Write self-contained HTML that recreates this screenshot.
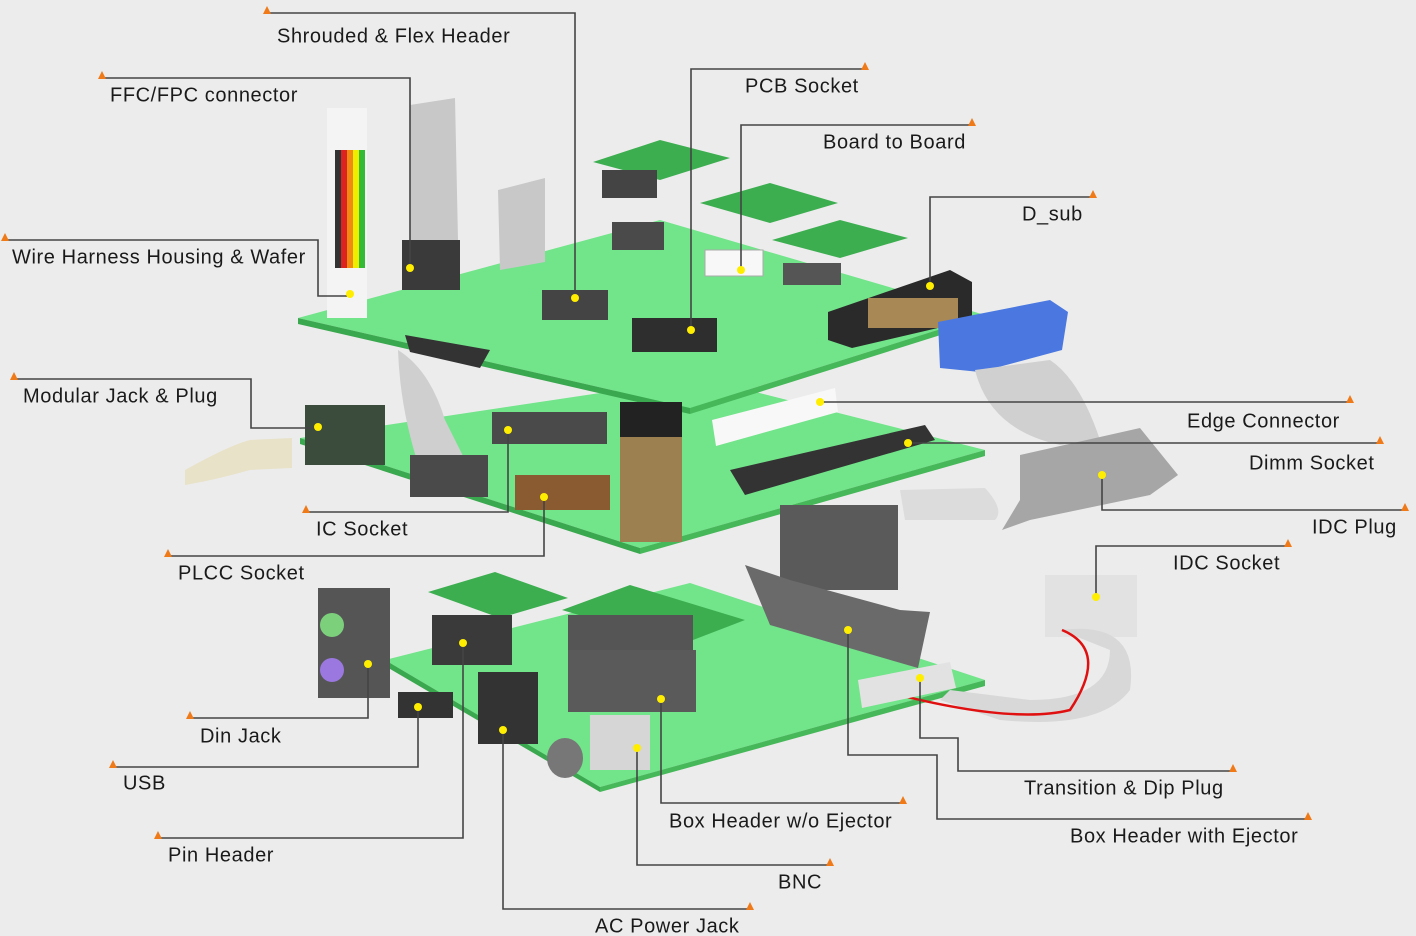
<!DOCTYPE html>
<html><head><meta charset="utf-8"><style>
html,body{margin:0;padding:0;background:#ececec;}
svg{display:block}
text{font-family:"Liberation Sans",sans-serif;font-size:20px;letter-spacing:0.6px;fill:#1a1a1a;dominant-baseline:middle}
.l{fill:none;stroke:#444;stroke-width:1.6}
.t{fill:#f07a18}
.d{fill:#ffee00}
</style></head><body>
<svg width="1416" height="936" viewBox="0 0 1416 936">
<rect width="1416" height="936" fill="#ececec"/>
<polygon points="385,660 690,583 985,680 600,787" fill="#72e48a"/>
<polygon points="385,660 600,787 600,792 385,666" fill="#3aa84e"/>
<polygon points="600,787 985,680 985,686 600,792" fill="#46b85a"/>
<polygon points="300,438 700,378 985,450 640,548" fill="#72e48a"/>
<polygon points="300,438 640,548 640,554 300,444" fill="#3aa84e"/>
<polygon points="640,548 985,450 985,456 640,554" fill="#46b85a"/>
<polygon points="298,318 660,220 985,315 690,408" fill="#72e48a"/>
<polygon points="298,318 690,408 690,414 298,324" fill="#3aa84e"/>
<polygon points="690,408 985,315 985,321 690,414" fill="#46b85a"/>
<polygon points="593,162 660,140 730,158 660,180" fill="#3cae50"/>
<rect x="602" y="170" width="55" height="28" fill="#444"/>
<polygon points="700,203 770,183 838,203 770,223" fill="#3cae50"/>
<polygon points="772,240 840,220 908,238 840,258" fill="#3cae50"/>
<polygon points="428,592 495,572 568,598 500,618" fill="#3cae50"/>
<polygon points="562,610 630,585 745,620 680,645" fill="#3cae50"/>
<rect x="327" y="108" width="40" height="210" fill="#f4f4f4"/>
<rect x="335" y="150" width="6" height="118" fill="#333"/><rect x="341" y="150" width="6" height="118" fill="#d22"/><rect x="347" y="150" width="6" height="118" fill="#f08a10"/><rect x="353" y="150" width="6" height="118" fill="#ee0"/><rect x="359" y="150" width="6" height="118" fill="#3b3"/>
<path d="M410,105 L455,98 L458,240 L410,245 Z" fill="#c8c8c8"/>
<rect x="402" y="240" width="58" height="50" fill="#3a3a3a"/>
<path d="M498,190 L545,178 L545,262 L500,270 Z" fill="#c8c8c8"/>
<rect x="612" y="222" width="52" height="28" fill="#4a4a4a"/>
<rect x="705" y="250" width="58" height="26" fill="#f8f8f8" stroke="#aaa"/>
<rect x="783" y="263" width="58" height="22" fill="#555"/>
<rect x="542" y="290" width="66" height="30" fill="#444"/>
<rect x="632" y="318" width="85" height="34" fill="#2e2e2e"/>
<polygon points="828,312 950,270 972,282 972,320 852,348 828,340" fill="#2a2a2a"/>
<rect x="868" y="298" width="90" height="30" fill="#a88855"/>
<polygon points="938,322 1050,300 1068,312 1062,350 980,372 940,368" fill="#4a78e0"/>
<path d="M405,335 L490,350 L480,368 L410,352 Z" fill="#333"/>
<path d="M398,350 Q430,370 445,420 L470,470 L420,470 Q400,410 398,350 Z" fill="#cfcfcf"/>
<rect x="410" y="455" width="78" height="42" fill="#4a4a4a"/>
<rect x="305" y="405" width="80" height="60" fill="#3c4c3c"/>
<path d="M185,470 Q230,445 250,440 L292,438 L292,468 L250,470 Q215,480 185,485 Z" fill="#e8e2c8"/>
<rect x="492" y="412" width="115" height="32" fill="#4a4a4a"/>
<rect x="515" y="475" width="95" height="35" fill="#8a5a30"/>
<rect x="620" y="402" width="62" height="140" fill="#9c8050"/>
<rect x="620" y="402" width="62" height="35" fill="#222"/>
<polygon points="712,420 835,388 838,412 716,446" fill="#f8f8f8"/>
<polygon points="730,470 925,425 935,440 745,495" fill="#333"/>
<path d="M975,370 Q990,430 1060,445 L1100,440 Q1080,380 1050,360 Z" fill="#d0d0d0"/>
<polygon points="1020,455 1140,428 1178,475 1150,495 1030,520 1002,530 1020,500" fill="#a6a6a6"/>
<path d="M900,490 L985,488 Q1005,510 995,520 L905,520 Z" fill="#dcdcdc"/>
<rect x="780" y="505" width="118" height="85" fill="#5a5a5a"/>
<polygon points="745,565 790,580 900,610 930,612 918,668 770,625" fill="#6a6a6a"/>
<rect x="1045" y="575" width="92" height="62" fill="#e2e2e2"/>
<path d="M1060,630 Q1140,620 1130,690 Q1100,730 1000,720 L940,700 L950,690 L1030,700 Q1110,700 1110,650 Z" fill="#d8d8d8"/>
<path d="M1062,630 Q1110,650 1070,710 Q1010,725 880,690" fill="none" stroke="#e01010" stroke-width="2.5"/>
<polygon points="858,680 950,662 956,688 862,708" fill="#e2e2e2"/>
<rect x="318" y="588" width="72" height="110" fill="#555"/>
<circle cx="332" cy="625" r="12" fill="#7cd07c"/><circle cx="332" cy="670" r="12" fill="#9a78e0"/>
<rect x="432" y="615" width="80" height="50" fill="#3a3a3a"/>
<rect x="398" y="692" width="55" height="26" fill="#333"/>
<rect x="478" y="672" width="60" height="72" fill="#333"/>
<rect x="568" y="615" width="125" height="48" fill="#555"/>
<rect x="568" y="650" width="128" height="62" fill="#5a5a5a"/>
<rect x="590" y="715" width="60" height="55" fill="#d6d6d6"/>
<ellipse cx="565" cy="758" rx="18" ry="20" fill="#777"/>
<g class="l">
<polyline points="267,13 575,13 575,298"/>
<polyline points="102,78 410,78 410,268"/>
<polyline points="5,240 318,240 318,296 350,296"/>
<polyline points="865,69 691,69 691,330"/>
<polyline points="972,125 741,125 741,270"/>
<polyline points="1093,197 930,197 930,286"/>
<polyline points="14,379 251,379 251,428 318,428"/>
<polyline points="1350,402 820,402"/>
<polyline points="1380,443 908,443"/>
<polyline points="1405,510 1102,510 1102,475"/>
<polyline points="1288,546 1096,546 1096,597"/>
<polyline points="306,512 508,512 508,430"/>
<polyline points="168,556 544,556 544,497"/>
<polyline points="190,718 368,718 368,664"/>
<polyline points="113,767 418,767 418,707"/>
<polyline points="158,838 463,838 463,643"/>
<polyline points="750,909 503,909 503,730"/>
<polyline points="830,865 637,865 637,748"/>
<polyline points="903,803 661,803 661,699"/>
<polyline points="1233,771 958,771 958,738 920,738 920,678"/>
<polyline points="1308,819 937,819 937,755 848,755 848,630"/>
</g>
<g class="t">
<polygon points="263,14 267,6 271,14"/><polygon points="98,79 102,71 106,79"/><polygon points="1,241 5,233 9,241"/>
<polygon points="861,70 865,62 869,70"/><polygon points="968,126 972,118 976,126"/><polygon points="1089,198 1093,190 1097,198"/>
<polygon points="10,380 14,372 18,380"/><polygon points="1346,403 1350,395 1354,403"/><polygon points="1376,444 1380,436 1384,444"/>
<polygon points="1401,511 1405,503 1409,511"/><polygon points="1284,547 1288,539 1292,547"/><polygon points="302,513 306,505 310,513"/>
<polygon points="164,557 168,549 172,557"/><polygon points="186,719 190,711 194,719"/><polygon points="109,768 113,760 117,768"/>
<polygon points="154,839 158,831 162,839"/><polygon points="746,910 750,902 754,910"/><polygon points="826,866 830,858 834,866"/>
<polygon points="899,804 903,796 907,804"/><polygon points="1229,772 1233,764 1237,772"/><polygon points="1304,820 1308,812 1312,820"/>
</g>
<g class="d">
<circle cx="575" cy="298" r="4"/><circle cx="410" cy="268" r="4"/><circle cx="350" cy="294" r="4"/><circle cx="691" cy="330" r="4"/>
<circle cx="741" cy="270" r="4"/><circle cx="930" cy="286" r="4"/><circle cx="318" cy="427" r="4"/><circle cx="820" cy="402" r="4"/>
<circle cx="908" cy="443" r="4"/><circle cx="1102" cy="475" r="4"/><circle cx="1096" cy="597" r="4"/><circle cx="508" cy="430" r="4"/>
<circle cx="544" cy="497" r="4"/><circle cx="368" cy="664" r="4"/><circle cx="418" cy="707" r="4"/><circle cx="463" cy="643" r="4"/>
<circle cx="503" cy="730" r="4"/><circle cx="637" cy="748" r="4"/><circle cx="661" cy="699" r="4"/><circle cx="920" cy="678" r="4"/><circle cx="848" cy="630" r="4"/>
</g>
<text x="277" y="37">Shrouded &amp; Flex Header</text>
<text x="110" y="96">FFC/FPC connector</text>
<text x="12" y="258">Wire Harness Housing &amp; Wafer</text>
<text x="745" y="87">PCB Socket</text>
<text x="823" y="143">Board to Board</text>
<text x="1022" y="215">D_sub</text>
<text x="23" y="397">Modular Jack &amp; Plug</text>
<text x="1187" y="422">Edge Connector</text>
<text x="1249" y="464">Dimm Socket</text>
<text x="1312" y="528">IDC Plug</text>
<text x="1173" y="564">IDC Socket</text>
<text x="316" y="530">IC Socket</text>
<text x="178" y="574">PLCC Socket</text>
<text x="200" y="737">Din Jack</text>
<text x="123" y="784">USB</text>
<text x="168" y="856">Pin Header</text>
<text x="595" y="927">AC Power Jack</text>
<text x="778" y="883">BNC</text>
<text x="669" y="822">Box Header w/o Ejector</text>
<text x="1024" y="789">Transition &amp; Dip Plug</text>
<text x="1070" y="837">Box Header with Ejector</text>
</svg>
</body></html>
